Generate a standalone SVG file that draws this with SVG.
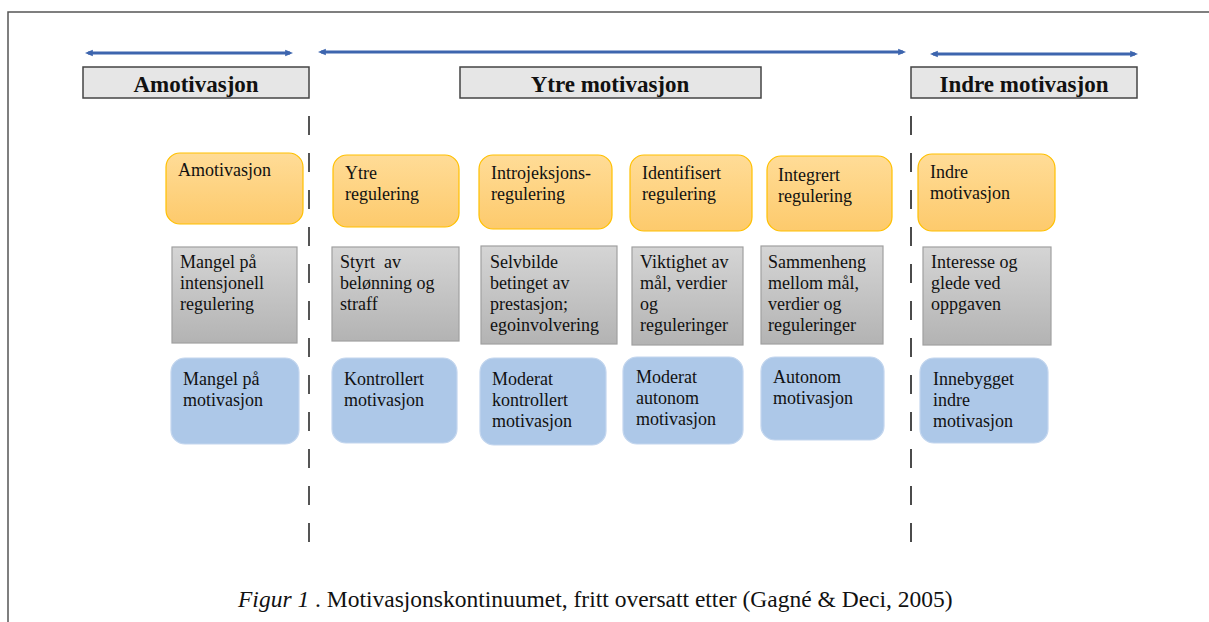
<svg xmlns="http://www.w3.org/2000/svg" width="1209" height="622" viewBox="0 0 1209 622">
<defs>
<linearGradient id="gOr" x1="0" y1="0" x2="0" y2="1"><stop offset="0" stop-color="#ffdc97"/><stop offset="1" stop-color="#fdca6c"/></linearGradient>
<linearGradient id="gGr" x1="0" y1="0" x2="0" y2="1"><stop offset="0" stop-color="#d5d5d5"/><stop offset="1" stop-color="#b3b3b3"/></linearGradient>
<marker id="ah" viewBox="0 0 10 10" refX="6" refY="5" markerWidth="8" markerHeight="8" markerUnits="userSpaceOnUse" orient="auto-start-reverse"><path d="M0,1 L10,5 L0,9 Z" fill="#3d65ae"/></marker>
<style>
.t{font-family:"Liberation Serif","Times New Roman",serif;font-size:18px;fill:#111}
.h{font-family:"Liberation Serif","Times New Roman",serif;font-size:23px;font-weight:bold;fill:#111;text-anchor:middle}
.hb{fill:#e6e6e6;stroke:#444;stroke-width:1.5}
.or{fill:url(#gOr);stroke:#ffc000;stroke-width:1.2}
.gr{fill:url(#gGr);stroke:#a0a0a0;stroke-width:1.2}
.bl{fill:#adc8e8;stroke:#c3d6ee;stroke-width:1.2}
.ar{stroke:#3d65ae;stroke-width:3;fill:none;marker-start:url(#ah);marker-end:url(#ah)}
</style>
</defs>
<rect x="0" y="0" width="1209" height="622" fill="#fff"/>
<rect x="8" y="12" width="1400" height="800" fill="none" stroke="#555" stroke-width="1.5"/>

<g id="connectors">
<line class="ar" x1="88" y1="53" x2="290" y2="53"/>
<line class="ar" x1="321" y1="52" x2="903" y2="52"/>
<line class="ar" x1="933" y1="54" x2="1135" y2="54"/>
<line x1="309" y1="116" x2="309" y2="544" stroke="#555" stroke-width="2" stroke-dasharray="19 18"/>
<line x1="911" y1="116" x2="911" y2="544" stroke="#111" stroke-width="1.5" stroke-dasharray="19 18"/>
</g>

<g id="hdr-amotivasjon"><rect class="hb" x="83" y="67" width="226" height="31"/><text class="h" x="196" y="92">Amotivasjon</text></g>
<g id="hdr-ytre"><rect class="hb" x="460" y="67" width="301" height="31"/><text class="h" x="610" y="92">Ytre motivasjon</text></g>
<g id="hdr-indre"><rect class="hb" x="911" y="67" width="226" height="31"/><text class="h" x="1024" y="92">Indre motivasjon</text></g>

<g id="o1"><rect class="or" x="166" y="153" width="137" height="71" rx="14"/><text class="t" x="178" y="176">Amotivasjon</text></g>
<g id="o2"><rect class="or" x="333" y="155" width="126" height="72" rx="14"/><text class="t" x="345" y="179">Ytre</text><text class="t" x="345" y="200">regulering</text></g>
<g id="o3"><rect class="or" x="479" y="155" width="133" height="74" rx="14"/><text class="t" x="491" y="179">Introjeksjons-</text><text class="t" x="491" y="200">regulering</text></g>
<g id="o4"><rect class="or" x="630" y="155" width="122" height="76" rx="14"/><text class="t" x="642" y="179">Identifisert</text><text class="t" x="642" y="200">regulering</text></g>
<g id="o5"><rect class="or" x="767" y="156" width="125" height="75" rx="14"/><text class="t" x="778" y="181">Integrert</text><text class="t" x="778" y="202">regulering</text></g>
<g id="o6"><rect class="or" x="918" y="154" width="137" height="77" rx="14"/><text class="t" x="930" y="178">Indre</text><text class="t" x="930" y="199">motivasjon</text></g>

<g id="g1"><rect class="gr" x="172" y="247" width="125" height="96"/><text class="t" x="180" y="268">Mangel på</text><text class="t" x="180" y="289">intensjonell</text><text class="t" x="180" y="310">regulering</text></g>
<g id="g2"><rect class="gr" x="332" y="247" width="127" height="94"/><text class="t" x="340" y="268" xml:space="preserve">Styrt  av</text><text class="t" x="340" y="289">belønning og</text><text class="t" x="340" y="310">straff</text></g>
<g id="g3"><rect class="gr" x="481" y="246" width="136" height="98"/><text class="t" x="490" y="268">Selvbilde</text><text class="t" x="490" y="289">betinget av</text><text class="t" x="490" y="310">prestasjon;</text><text class="t" x="490" y="331">egoinvolvering</text></g>
<g id="g4"><rect class="gr" x="632" y="247" width="111" height="98"/><text class="t" x="640" y="268">Viktighet av</text><text class="t" x="640" y="289">mål, verdier</text><text class="t" x="640" y="310">og</text><text class="t" x="640" y="331">reguleringer</text></g>
<g id="g5"><rect class="gr" x="761" y="246" width="122" height="98"/><text class="t" x="768" y="268">Sammenheng</text><text class="t" x="768" y="289">mellom mål,</text><text class="t" x="768" y="310">verdier og</text><text class="t" x="768" y="331">reguleringer</text></g>
<g id="g6"><rect class="gr" x="923" y="247" width="128" height="98"/><text class="t" x="931" y="268">Interesse og</text><text class="t" x="931" y="289">glede ved</text><text class="t" x="931" y="310">oppgaven</text></g>

<g id="b1"><rect class="bl" x="171" y="358" width="128" height="86" rx="14"/><text class="t" x="183" y="385">Mangel på</text><text class="t" x="183" y="406">motivasjon</text></g>
<g id="b2"><rect class="bl" x="332" y="358" width="125" height="85" rx="14"/><text class="t" x="344" y="385">Kontrollert</text><text class="t" x="344" y="406">motivasjon</text></g>
<g id="b3"><rect class="bl" x="480" y="358" width="126" height="87" rx="14"/><text class="t" x="492" y="385">Moderat</text><text class="t" x="492" y="406">kontrollert</text><text class="t" x="492" y="427">motivasjon</text></g>
<g id="b4"><rect class="bl" x="623" y="357" width="120" height="87" rx="14"/><text class="t" x="636" y="383">Moderat</text><text class="t" x="636" y="404">autonom</text><text class="t" x="636" y="425">motivasjon</text></g>
<g id="b5"><rect class="bl" x="761" y="357" width="123" height="83" rx="14"/><text class="t" x="773" y="383">Autonom</text><text class="t" x="773" y="404">motivasjon</text></g>
<g id="b6"><rect class="bl" x="920" y="358" width="128" height="85" rx="14"/><text class="t" x="933" y="385">Innebygget</text><text class="t" x="933" y="406">indre</text><text class="t" x="933" y="427">motivasjon</text></g>

<text x="238" y="607" style="font-family:'Liberation Serif','Times New Roman',serif;font-size:23.5px;fill:#111"><tspan font-style="italic">Figur 1</tspan> . Motivasjonskontinuumet, fritt oversatt etter (Gagné &amp; Deci, 2005)</text>
</svg>
